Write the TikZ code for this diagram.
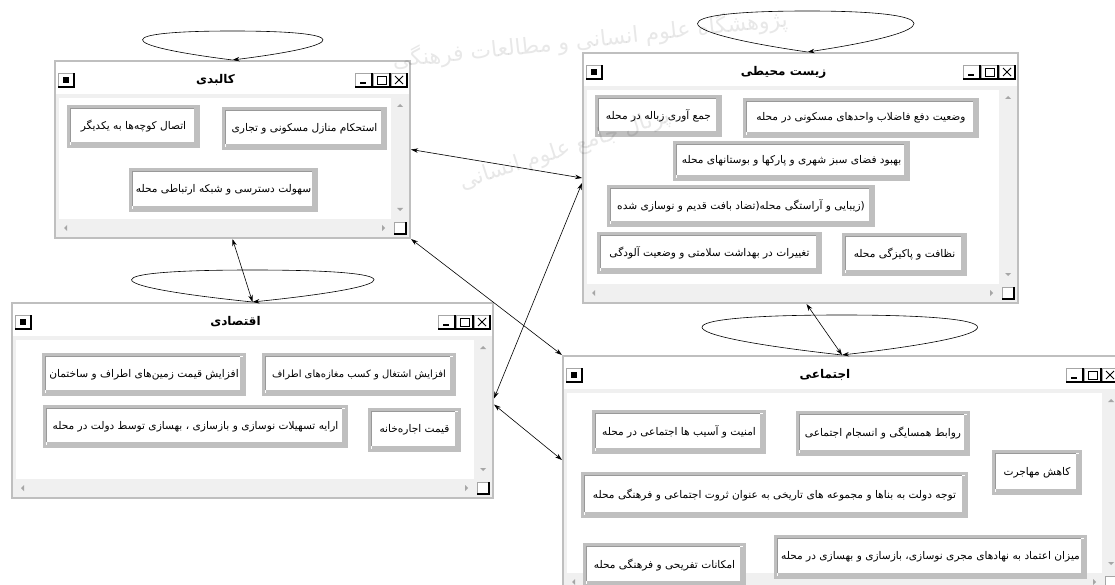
\documentclass[tikz,border=0pt]{standalone}
\usepackage{fontspec}
\newfontfamily\fa[Script=Arabic]{DejaVu Sans}
\TeXXeTstate=1
\usetikzlibrary{positioning,arrows.meta,fit}

\newcommand{\rtl}[1]{\beginR #1\endR}
% small 3d box of the title bar
\newcommand{\tinybtn}[4]{%
  \draw[draw=black!35, fill=white] (#1,#2) rectangle (#3,#4);
  \draw[line width=1.1pt] (#1,#4) -- (#3,#4) -- (#3,#2);
}
% window: name, left, top, right, bottom, title
\newcommand{\appwin}[6]{%
  \coordinate (#1nw) at (#2,#3);
  \coordinate (#1se) at (#4,#5);
  \node[winframe, fit=(#1nw)(#1se)] (#1) {};
  \fill[barfill] (#2+1,#3+33) rectangle (#4-1,#5-1);
  \fill[white] (#2+4,#3+37) rectangle (#4-19,#5-19);
  % scroll arrows
  \fill[scrollarrow] (#4-13,#3+46) -- (#4-7,#3+46) -- (#4-10,#3+43) -- cycle;
  \fill[scrollarrow] (#4-13,#5-30) -- (#4-7,#5-30) -- (#4-10,#5-27) -- cycle;
  \fill[scrollarrow] (#2+12,#5-13) -- (#2+12,#5-7) -- (#2+9,#5-10) -- cycle;
  \fill[scrollarrow] (#4-28,#5-13) -- (#4-28,#5-7) -- (#4-25,#5-10) -- cycle;
  \tinybtn{#4-16}{#5-16}{#4-4}{#5-4}
  % title bar
  \tinybtn{#2+3}{#3+12}{#2+19}{#3+26}
  \fill (#2+8,#3+16) rectangle (#2+14,#3+22);
  \tinybtn{#4-55}{#3+12}{#4-38}{#3+26}
  \tinybtn{#4-37}{#3+12}{#4-20}{#3+26}
  \tinybtn{#4-19}{#3+12}{#4-3}{#3+26}
  \draw[line width=1.4pt] (#4-50,#3+22) -- (#4-44,#3+22);
  \draw[line width=0.8pt] (#4-33,#3+15) rectangle (#4-24,#3+23);
  \draw[line width=0.8pt] (#4-15,#3+15) -- (#4-7,#3+23) (#4-15,#3+23) -- (#4-7,#3+15);
  \node[wintitle] (#1title) at ({(#2+#4)/2-17},{#3+19}) {#6};
}
% loop above a window: apex, left width, right width, height
\newcommand{\selfloop}[4]{%
  \draw[loopline] #1 .. controls +(-1.333*#2,-0.52*#4) and +(-1.333*#2,0) .. ++(0,-#4)
    .. controls +(1.333*#3,0) and +(1.333*#3,-0.52*#4) .. +(0,#4);
}

\begin{document}
\begin{tikzpicture}[
  x=1pt, y=-1pt,
  winframe/.style={draw=black!25, line width=2pt, fill=white, inner sep=0pt},
  wintitle/.style={font=\fa\bfseries\fontsize{12}{13}\selectfont, inner sep=0pt},
  barfill/.style={fill=black!6},
  scrollarrow/.style={fill=black!35},
  btn/.style={
    draw=black!25, line width=3pt, fill=white, inner sep=0pt,
    font=\fa\fontsize{10.6}{12}\selectfont,
    path picture={
      \draw[line width=3pt]
        ([shift={(2pt,3pt)}]path picture bounding box.south west) --
        ([shift={(-3pt,3pt)}]path picture bounding box.south east) --
        ([shift={(-3pt,-2pt)}]path picture bounding box.north east);
      \draw[black!40, line width=0.8pt]
        ([shift={(2pt,4.5pt)}]path picture bounding box.south west) --
        ([shift={(2pt,-2pt)}]path picture bounding box.north west) --
        ([shift={(-4.5pt,-2pt)}]path picture bounding box.north east);
    }
  },
  link/.style={{Stealth[length=7pt,width=4.5pt]}-{Stealth[length=7pt,width=4.5pt]}, line width=0.6pt},
  loopline/.style={-{Stealth[length=7pt,width=4.5pt]}, line width=0.6pt},
  wmtext/.style={text=black, text opacity=0.09, font=\fa\fontsize{22}{24}\selectfont}
]
\fill[white] (0,0) rectangle (1115,585);
\clip (0,0) rectangle (1115,585);

% windows
\appwin{kalbadi}{55}{61}{410}{238}{\rtl{کالبدی}}
\appwin{zist}{583}{53}{1018}{303}{\beginR زیست محیطی\endR}
\appwin{eqtesadi}{12}{303}{493}{498}{\rtl{اقتصادی}}
\appwin{ejtemai}{563}{356}{1121}{592}{\rtl{اجتماعی}}

% buttons of kalbadi
\node[btn, minimum width=130pt, minimum height=40pt] (k1) at (133.5,126.5) {\rtl{اتصال کوچه^^^^200cها به یکدیگر}};
\node[btn, minimum width=162pt, minimum height=40pt] (k2) at (304.5,128.5) {\rtl{استحکام منازل مسکونی و تجاری}};
\node[btn, minimum width=186pt, minimum height=41pt] (k3) at (223.5,190) {\rtl{سهولت دسترسی و شبکه ارتباطی محله}};

% buttons of zist mohiti
\node[btn, minimum width=124pt, minimum height=39pt] (z1) at (658.5,116) {\rtl{جمع آوری زباله در محله}};
\node[btn, minimum width=233pt, minimum height=37pt] (z2) at (861,118) {\rtl{وضعیت دفع فاضلاب واحدهای مسکونی در محله}};
\node[btn, minimum width=234pt, minimum height=37pt] (z3) at (791.5,161) {\rtl{بهبود فضای سبز شهری و پارکها و بوستانهای محله}};
\node[btn, minimum width=265pt, minimum height=39pt] (z4) at (741,206) {\rtl{(زیبایی و آراستگی محله(تضاد بافت قدیم و نوسازی شده}};
\node[btn, minimum width=222pt, minimum height=39pt] (z5) at (709.5,253) {\rtl{تغییرات در بهداشت سلامتی و وضعیت آلودگی}};
\node[btn, minimum width=122pt, minimum height=40pt] (z6) at (904.5,254.5) {\rtl{نظافت و پاکیزگی محله}};

% buttons of eqtesadi
\node[btn, minimum width=201pt, minimum height=40pt] (e1) at (144,374.5) {\rtl{افزایش قیمت زمین^^^^200cهای اطراف و ساختمان}};
\node[btn, minimum width=191pt, minimum height=40pt, font=\fa\fontsize{10}{11}\selectfont] (e2) at (359,374.5) {\rtl{افزایش اشتغال و کسب مغازه^^^^200cهای اطراف}};
\node[btn, minimum width=302pt, minimum height=40pt] (e3) at (195.5,426.5) {\rtl{ارایه تسهیلات نوسازی و بازسازی ، بهسازی توسط دولت در محله}};
\node[btn, minimum width=90pt, minimum height=41pt] (e4) at (414.5,430) {\rtl{قیمت اجاره^^^^200cخانه}};

% buttons of ejtemai
\node[btn, minimum width=171pt, minimum height=41pt] (j1) at (679,432) {\rtl{امنیت و آسیب ها اجتماعی در محله}};
\node[btn, minimum width=171pt, minimum height=42pt] (j2) at (883,433.5) {\rtl{روابط همسایگی و انسجام اجتماعی}};
\node[btn, minimum width=87pt, minimum height=42pt] (j3) at (1037,472.5) {\rtl{کاهش مهاجرت}};
\node[btn, minimum width=384pt, minimum height=43pt] (j4) at (774.5,495) {\rtl{توجه دولت به بناها و مجموعه های تاریخی به عنوان ثروت اجتماعی و فرهنگی محله}};
\node[btn, minimum width=310pt, minimum height=41pt] (j5) at (930.5,557) {\rtl{میزان اعتماد به نهادهای مجری نوسازی، بازسازی و بهسازی در محله}};
\node[btn, minimum width=160pt, minimum height=41pt] (j6) at (664.5,565) {\rtl{امکانات تفریحی و فرهنگی محله}};

% links between windows
\draw[link] (kalbadi.east) -- (zist.west);
\draw[link] (kalbadi.south) -- (eqtesadi.north);
\draw[link] (kalbadi.south east) -- (ejtemai.north west);
\draw[link] ([yshift=2pt]eqtesadi.east) -- ([yshift=-5pt]zist.west);
\draw[link] ([yshift=-4pt]eqtesadi.east) -- ([yshift=14pt]ejtemai.west);
\draw[link] ([xshift=6pt]zist.south) -- (ejtemai.north);

% loops
\selfloop{(kalbadi.north)}{90}{90}{29}
\selfloop{([xshift=7pt]zist.north)}{110}{106}{41}
\selfloop{(eqtesadi.north)}{121}{121}{32}
\selfloop{(ejtemai.north)}{140}{135}{40}

% watermark
\node[wmtext, rotate=6] (wm1) at (590,40) {\rtl{پژوهشگاه علوم انسانی و مطالعات فرهنگی}};
\node[wmtext, rotate=18] (wm2) at (565,150) {\rtl{پرتال جامع علوم انسانی}};
\end{tikzpicture}
\end{document}
